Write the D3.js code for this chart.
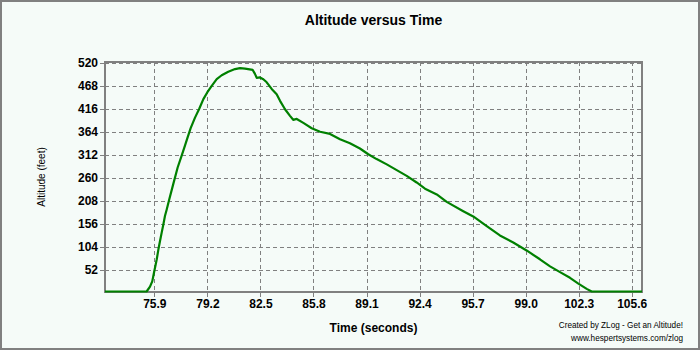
<!DOCTYPE html>
<html>
<head>
<meta charset="utf-8">
<script src="https://cdn.jsdelivr.net/npm/d3@7"></script>
<style>
  html, body { margin: 0; padding: 0; background: #f5fbf8; }
  #d3chart { width: 700px; height: 350px; }
  text { font-family: "Liberation Sans", Arial, sans-serif; }
</style>
</head>
<body>
<div id="d3chart"></div>
<script>
// Flight samples (seconds, feet).
const times = [72.83, 75.42, 75.63, 75.77, 75.88, 76.05, 76.15, 76.25, 76.36, 76.46,
  76.56, 76.67, 76.83, 77.06, 77.35, 77.60, 77.81, 77.95, 78.16, 78.43,
  78.68, 78.95, 79.19, 79.47, 79.78, 80.09, 80.50, 80.92, 81.23, 81.54,
  82.02, 82.16, 82.27, 82.47, 82.68, 82.89, 83.20, 83.51, 83.72, 84.03,
  84.34, 84.54, 84.76, 85.17, 85.69, 86.21, 86.83, 87.45, 88.07, 88.69,
  89.21, 89.73, 90.36, 90.98, 91.60, 92.22, 92.74, 93.47, 94.09, 95.12,
  95.74, 96.58, 97.40, 98.23, 99.06, 99.89, 100.52, 101.14, 101.76, 102.28,
  102.80, 103.11, 106.24]
const altitudes = [0, 0, 11, 23, 43, 73, 95, 114, 134, 152,
  171, 186, 209, 241, 281, 308, 331, 347, 370, 394,
  413, 436, 451, 466, 481, 490, 498, 504, 506, 505,
  502, 493, 484, 485, 481, 474, 459, 447, 432, 413,
  398, 389, 391, 382, 370, 362, 357, 345, 336, 324,
  311, 300, 288, 275, 262, 247, 233, 220, 203, 182,
  170, 148, 127, 111, 93, 73, 57, 44, 31, 18,
  6, 0, 0]

const xTicks = [75.9, 79.2, 82.5, 85.8, 89.1, 92.4, 95.7, 99.0, 102.3, 105.6]
const yTicks = [52, 104, 156, 208, 260, 312, 364, 416, 468, 520]

const chartTitle = 'Altitude versus Time'
const xLabel = 'Time (seconds)'
const yLabel = 'Altitude (feet)'
const credits = ['Created by ZLog - Get an Altitude!', 'www.hespertsystems.com/zlog']

class D3Chart {
  constructor () {
    this.data = times.map((t, i) => ({ t, alt: altitudes[i] }))
    this.drawChart()
  }

  drawChart () {
    this.chartWidth = 700
    this.chartHeight = 350
    this.plot = { left: 105, right: 642, top: 62, bottom: 292 }

    this.svg = d3.select('#d3chart')
      .append('svg')
      .attr('width', this.chartWidth)
      .attr('height', this.chartHeight)

    // outer frame
    this.svg.append('rect')
      .attr('x', 1).attr('y', 1)
      .attr('width', this.chartWidth - 2).attr('height', this.chartHeight - 2)
      .attr('fill', '#f5fbf8')
      .attr('stroke', '#808080')
      .attr('stroke-width', 2)

    this.createScales()
    this.addGridLines()
    this.addAxes()
    this.addDataVisuals()
    this.addLabels()
  }

  createScales () {
    this.xScale = d3.scaleLinear()
      .domain([72.83, 106.24])
      .range([this.plot.left, this.plot.right])
    this.yScale = d3.scaleLinear()
      .domain([0, 520])
      .range([this.plot.bottom + 0.5, this.plot.top + 1])
  }

  addGridLines () {
    const p = this.plot
    const grid = this.svg.append('g')
      .attr('stroke', '#808080')
      .attr('stroke-dasharray', '4,3')
      .attr('shape-rendering', 'crispEdges')

    grid.selectAll('.vgrid').data(xTicks).join('line')
      .attr('class', 'vgrid')
      .attr('x1', d => Math.round(this.xScale(d)) + 0.5)
      .attr('x2', d => Math.round(this.xScale(d)) + 0.5)
      .attr('y1', p.top).attr('y2', p.bottom + 5)

    grid.selectAll('.hgrid').data(yTicks).join('line')
      .attr('class', 'hgrid')
      .attr('y1', d => Math.round(this.yScale(d)) + 0.5)
      .attr('y2', d => Math.round(this.yScale(d)) + 0.5)
      .attr('x1', p.left).attr('x2', p.right)
  }

  addAxes () {
    const p = this.plot
    const yAxis = d3.axisLeft(this.yScale)
      .tickValues(yTicks)
      .tickFormat(d3.format('d'))
      .tickSize(5)
      .tickPadding(2)
    const xAxis = d3.axisBottom(this.xScale)
      .tickValues(xTicks)
      .tickFormat(d3.format('.1f'))
      .tickSize(0)
      .tickPadding(7)

    const gy = this.svg.append('g')
      .attr('transform', `translate(${p.left},0)`)
      .call(yAxis)
    const gx = this.svg.append('g')
      .attr('transform', `translate(0,${p.bottom})`)
      .call(xAxis)

    for (const g of [gx, gy]) {
      g.select('.domain').remove()
      g.selectAll('line').attr('stroke', '#808080').attr('shape-rendering', 'crispEdges')
      g.selectAll('text')
        .attr('fill', '#000')
        .style('font-size', '12px')
        .style('font-weight', 'bold')
    }

    // plot frame
    this.svg.append('rect')
      .attr('x', p.left).attr('y', p.top)
      .attr('width', p.right - p.left).attr('height', p.bottom - p.top)
      .attr('fill', 'none')
      .attr('stroke', '#808080')
      .attr('stroke-width', 2)
      .attr('shape-rendering', 'crispEdges')
  }

  addDataVisuals () {
    const line = d3.line()
      .x(d => this.xScale(d.t))
      .y(d => this.yScale(d.alt) - 1)
    this.svg.append('path')
      .datum(this.data)
      .attr('d', line)
      .attr('fill', 'none')
      .attr('stroke', '#008000')
      .attr('stroke-width', 2.2)
      .attr('stroke-linejoin', 'round')
  }

  addLabels () {
    const cx = (this.plot.left + this.plot.right) / 2
    this.svg.append('text')
      .attr('x', cx).attr('y', 25)
      .attr('text-anchor', 'middle')
      .style('font-size', '14px').style('font-weight', 'bold')
      .text(chartTitle)

    this.svg.append('text')
      .attr('x', cx).attr('y', 332)
      .attr('text-anchor', 'middle')
      .style('font-size', '12px').style('font-weight', 'bold')
      .text(xLabel)

    this.svg.append('text')
      .attr('transform', `translate(45,${(this.plot.top + this.plot.bottom) / 2}) rotate(-90)`)
      .attr('text-anchor', 'middle')
      .style('font-size', '10px')
      .text(yLabel)

    this.svg.selectAll('.credit').data(credits).join('text')
      .attr('class', 'credit')
      .attr('x', 683).attr('y', (d, i) => 328 + i * 13)
      .attr('text-anchor', 'end')
      .style('font-size', '8.2px')
      .text(d => d)
  }
}

new D3Chart()
</script>
</body>
</html>
